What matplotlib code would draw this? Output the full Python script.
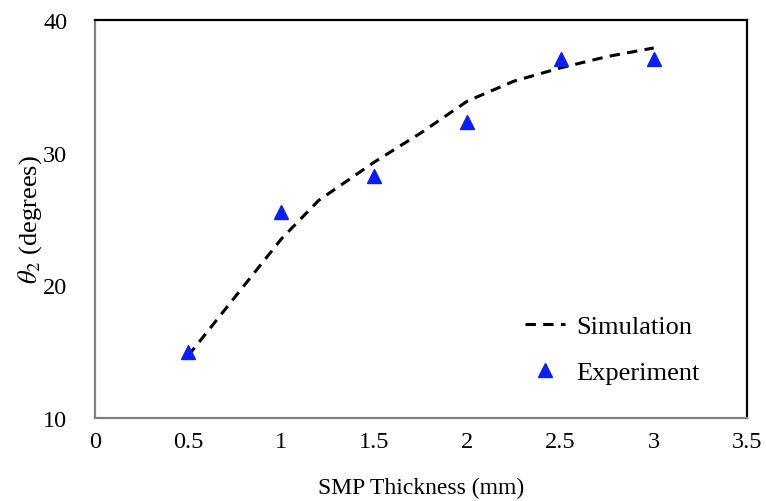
import matplotlib
matplotlib.use("Agg")
import matplotlib.pyplot as plt

sim_x = [0.5, 0.75, 1.0, 1.2, 1.5, 1.75, 2.0, 2.25, 2.5, 2.75, 3.0]
sim_y = [14.7, 19.1, 23.5, 26.4, 29.3, 31.5, 33.9, 35.4, 36.4, 37.25, 37.9]
exp_x = [0.5, 1.0, 1.5, 2.0, 2.5, 3.0]
exp_y = [14.95, 25.5, 28.25, 32.3, 37.05, 37.05]
x_ticks = [0, 0.5, 1, 1.5, 2, 2.5, 3, 3.5]
x_ticklabels = ["0", "0.5", "1", "1.5", "2", "2.5", "3", "3.5"]
y_ticks = [10, 20, 30, 40]

plt.rcParams['font.family'] = ['Liberation Serif', 'DejaVu Serif']
plt.rcParams['mathtext.fontset'] = 'stix'

fig = plt.figure(figsize=(7.66, 5.02), dpi=100)
ax = fig.add_axes([0.124, 0.165, 0.851, 0.793])

ax.plot(sim_x, sim_y, linestyle=(0, (3.4, 2.4)), color='black', lw=2.2, label='Simulation')
ax.plot(exp_x, exp_y, linestyle='none', marker='^', color='#0a1efa', markersize=10, label='Experiment')

ax.set_xlim(0, 3.5)
ax.set_ylim(10, 40)
ax.set_xticks(x_ticks)
ax.set_xticklabels(x_ticklabels)
ax.set_yticks(y_ticks)
ax.tick_params(axis='both', length=0, labelsize=17.5)
ax.tick_params(axis='x', pad=9)
ax.tick_params(axis='y', pad=20)

for s in ['left', 'bottom']:
    ax.spines[s].set_color('#808080')
    ax.spines[s].set_linewidth(1.6)
for s in ['top', 'right']:
    ax.spines[s].set_color('black')
    ax.spines[s].set_linewidth(1.6)

ax.set_xlabel('SMP Thickness (mm)', fontsize=17, labelpad=18)
ax.set_ylabel(r'$\theta_2$ (degrees)', fontsize=19, labelpad=-1)

leg = ax.legend(loc='lower right', frameon=False, fontsize=19, handlelength=1.5,
                bbox_to_anchor=(0.928, 0.085), borderpad=0, labelspacing=0.87,
                handletextpad=0.45, borderaxespad=0)

fig.savefig('out.png', dpi=100)
